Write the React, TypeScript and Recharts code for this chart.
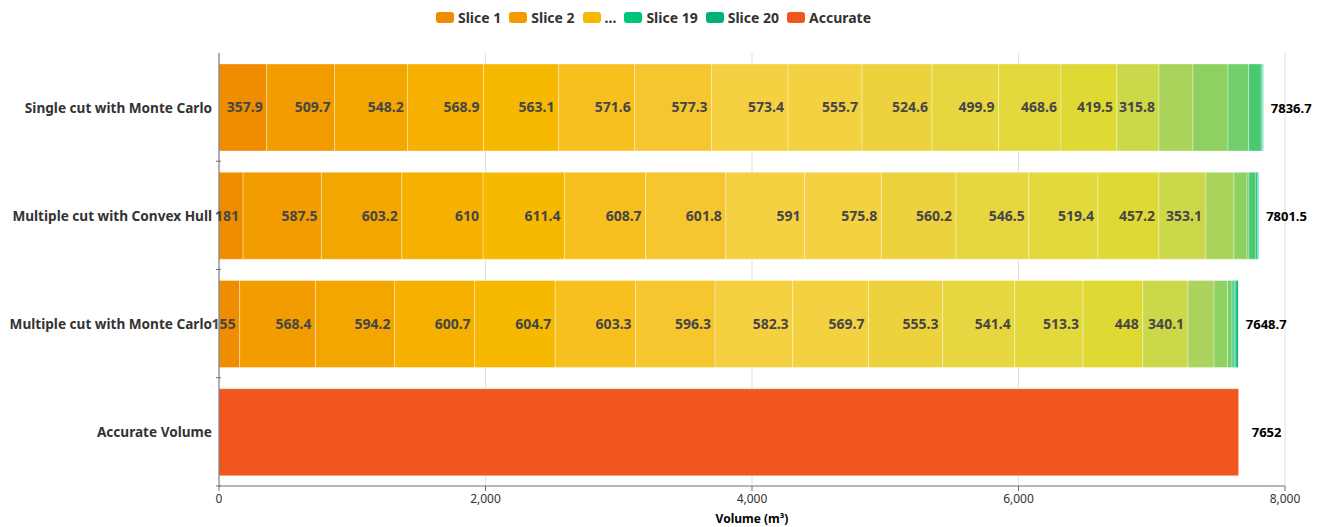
import React from "react";
import {
  BarChart,
  Bar,
  XAxis,
  YAxis,
  CartesianGrid,
  Legend,
  LabelList,
  Label,
} from "recharts";

const categories = [
  "Single cut with Monte Carlo",
  "Multiple cut with Convex Hull",
  "Multiple cut with Monte Carlo",
  "Accurate Volume",
];

// volume per slice (20 slices)
const singleCutMonteCarlo = [
  357.9, 509.7, 548.2, 568.9, 563.1, 571.6, 577.3, 573.4, 555.7, 524.6, 499.9,
  468.6, 419.5, 315.8, 255, 263, 155, 95, 9, 5.5,
];
const multipleCutConvexHull = [
  181, 587.5, 603.2, 610, 611.4, 608.7, 601.8, 591, 575.8, 560.2, 546.5, 519.4,
  457.2, 353.1, 210, 98, 15, 52, 13, 6.7,
];
const multipleCutMonteCarlo = [
  155, 568.4, 594.2, 600.7, 604.7, 603.3, 596.3, 582.3, 569.7, 555.3, 541.4,
  513.3, 448, 340.1, 195, 102, 33, 17, 12, 17,
];
const accurateVolume = 7652;

const totals = [7836.7, 7801.5, 7648.7, 7652];
const xTicks = [0, 2000, 4000, 6000, 8000];

const sliceColors = [
  "#ef8c00",
  "#f29c00",
  "#f4a600",
  "#f6b000",
  "#f7b900",
  "#f7c01e",
  "#f6c62e",
  "#f5d040",
  "#f4d140",
  "#ecd33e",
  "#e8d640",
  "#e4d93c",
  "#dfd934",
  "#cbd84a",
  "#a9d35a",
  "#8fd161",
  "#72cf6c",
  "#4bc872",
  "#00c47c",
  "#00b275",
];
const accurateColor = "#f0561e";

const legendItems = [
  { name: "Slice 1", color: "#ef8c00" },
  { name: "Slice 2", color: "#f29c00" },
  { name: "...", color: "#f8b800" },
  { name: "Slice 19", color: "#00c47c" },
  { name: "Slice 20", color: "#00b275" },
  { name: "Accurate", color: accurateColor },
];

const FONT = "'Noto Sans', 'Open Sans', sans-serif";

const rows = [singleCutMonteCarlo, multipleCutConvexHull, multipleCutMonteCarlo];
const data = categories.map((name, i) => {
  const row: Record<string, any> = { name, total: totals[i] };
  for (let s = 0; s < 20; s++) {
    row[`s${s + 1}`] = i < rows.length ? rows[i][s] : 0;
  }
  row.accurate = i === 3 ? accurateVolume : 0;
  return row;
});

const CustomLegend = () => (
  <div
    style={{
      display: "flex",
      justifyContent: "center",
      alignItems: "center",
      gap: 8,
      height: 18,
      marginLeft: 22,
      fontFamily: FONT,
      fontWeight: 700,
      fontSize: 14,
      color: "#333",
    }}
  >
    {legendItems.map((item) => (
      <div key={item.name} style={{ display: "flex", alignItems: "center", gap: 4 }}>
        <div
          style={{
            width: 18,
            height: 11,
            borderRadius: 3,
            backgroundColor: item.color,
          }}
        />
        <span>{item.name}</span>
      </div>
    ))}
  </div>
);

const CategoryTick = ({ x, y, payload }: any) => (
  <g>
    <text
      x={x - 1}
      y={y}
      textAnchor="end"
      dominantBaseline="central"
      fontFamily={FONT}
      fontWeight={700}
      fontSize={13.6}
      fill="#333"
    >
      {payload.value}
    </text>
    <line x1={x + 3} x2={x + 8} y1={y + 54.1} y2={y + 54.1} stroke="#6e7079" />
  </g>
);

const TotalLabel = (props: any) => {
  const vb = props.viewBox ?? props;
  const x = vb.x ?? props.x;
  const y = vb.y ?? props.y;
  const width = vb.width ?? props.width ?? 0;
  const height = vb.height ?? props.height ?? 0;
  if (!width || props.value == null) return null;
  return (
    <text
      x={x + width + 28}
      y={y + height / 2}
      textAnchor="middle"
      dominantBaseline="central"
      fontFamily={FONT}
      fontWeight={700}
      fontSize={13}
      fill="#000"
    >
      {props.value}
    </text>
  );
};

export default function App() {
  return (
    <div style={{ position: "absolute", left: 0, top: 0, background: "#fff" }}>
      <BarChart
        width={1325}
        height={527}
        data={data}
        layout="vertical"
        margin={{ top: 35, right: 40, left: 0, bottom: 0 }}
        barSize={87}
      >
        <CartesianGrid horizontal={false} stroke="#e0e0e0" />
        <XAxis
          type="number"
          domain={[0, 8000]}
          ticks={xTicks}
          tickFormatter={(v) => v.toLocaleString("en-US")}
          height={41}
          stroke="#6e7079"
          tick={{ fill: "#333", fontSize: 12, fontFamily: FONT }}
          tickSize={5}
          tickMargin={3}
        >
          <Label
            value="Volume (m³)"
            position="insideBottom"
            offset={4}
            style={{ fontFamily: FONT, fontWeight: 700, fontSize: 12, fill: "#000" }}
          />
        </XAxis>
        <YAxis
          type="category"
          dataKey="name"
          width={219}
          stroke="#6e7079"
          tickLine={false}
          tick={<CategoryTick />}
          tickSize={0}
          tickMargin={6}
        />
        <Legend
          verticalAlign="top"
          align="center"
          wrapperStyle={{ top: 8 }}
          content={<CustomLegend />}
        />
        {sliceColors.map((color, i) => (
          <Bar
            key={`s${i + 1}`}
            dataKey={`s${i + 1}`}
            stackId="vol"
            fill={color}
            stroke="rgba(255,255,255,0.35)"
            strokeWidth={1}
            isAnimationActive={false}
          >
            {i < 14 && (
              <LabelList
                dataKey={`s${i + 1}`}
                position="insideRight"
                offset={4}
                formatter={(v: any) => (v ? v : "")}
                style={{ fontFamily: FONT, fontWeight: 700, fontSize: 14, fill: "#464646" }}
              />
            )}
            {i === 19 && <LabelList dataKey="total" content={<TotalLabel />} />}
          </Bar>
        ))}
        <Bar
          dataKey="accurate"
          stackId="vol"
          fill={accurateColor}
          stroke="rgba(255,255,255,0.35)"
          strokeWidth={1}
          isAnimationActive={false}
        >
          <LabelList dataKey="total" content={<TotalLabel />} />
        </Bar>
      </BarChart>
    </div>
  );
}
